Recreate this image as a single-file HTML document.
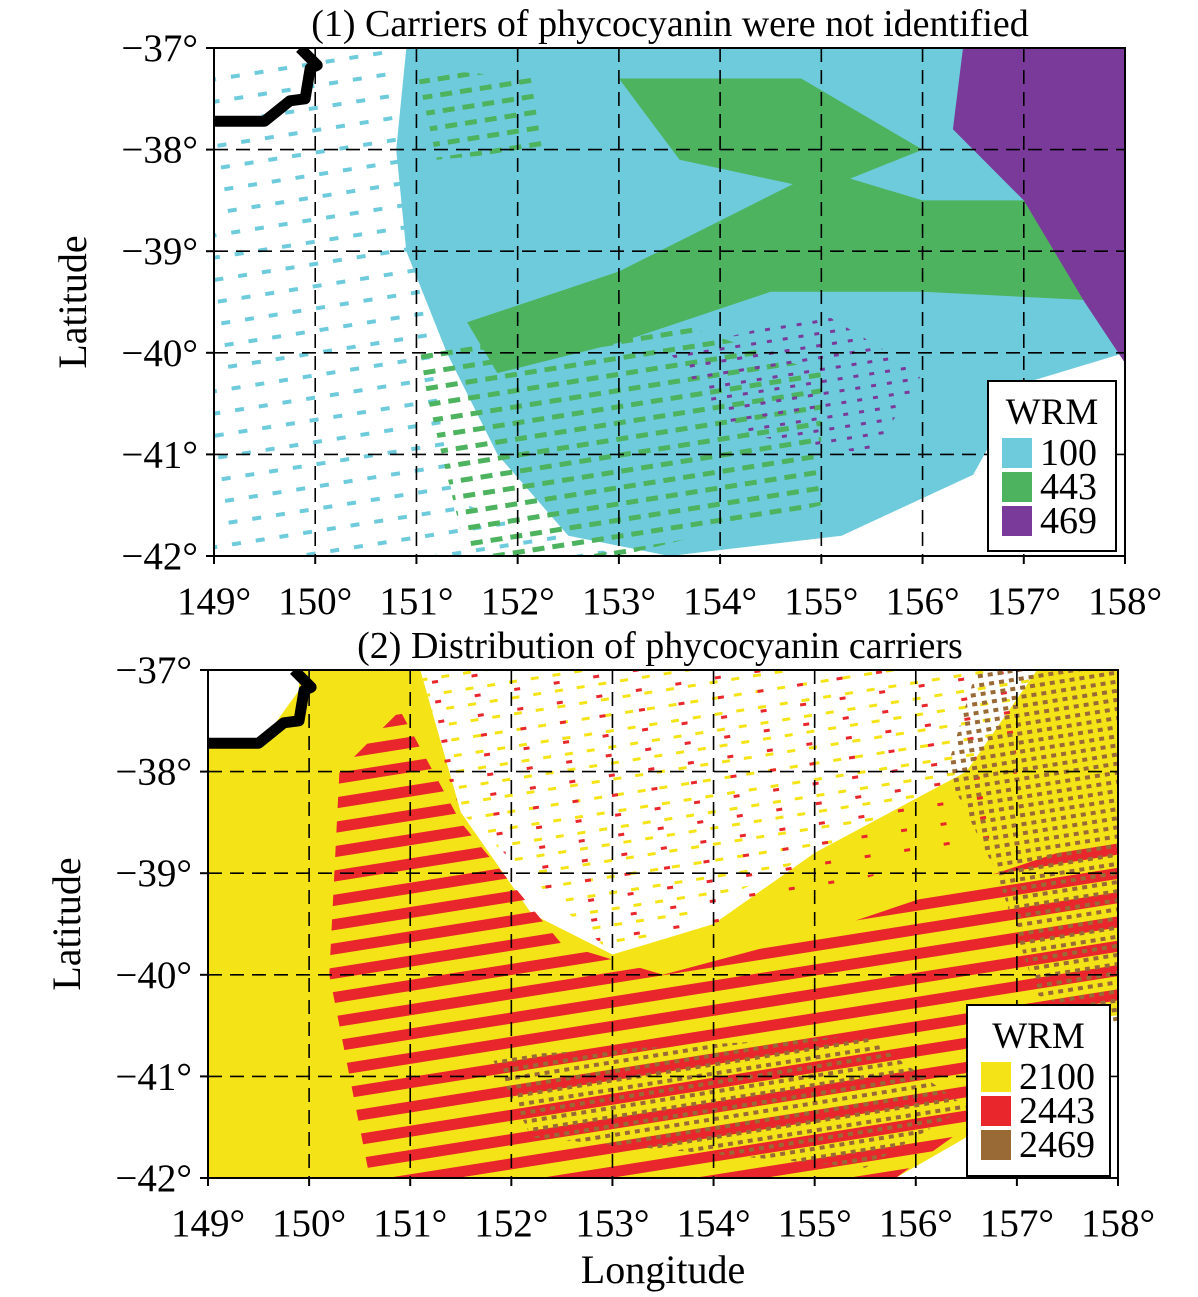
<!DOCTYPE html>
<html><head><meta charset="utf-8">
<style>
html,body{margin:0;padding:0;background:#fff;}
svg{display:block;font-family:"Liberation Serif",serif;}
</style></head>
<body>
<svg id="fig" width="1198" height="1297" viewBox="0 0 1198 1297" xmlns="http://www.w3.org/2000/svg">
<defs>
<pattern id="cyanStripe" width="24" height="22" patternUnits="userSpaceOnUse" patternTransform="rotate(-9)">
<rect x="0" y="0" width="9" height="4" fill="#6ecbdc"/></pattern>
<pattern id="greenStripe" width="20" height="16" patternUnits="userSpaceOnUse" patternTransform="rotate(-9)">
<rect x="0" y="0" width="12" height="5" fill="#4db35e"/></pattern>
<pattern id="purpleDots" width="16" height="12" patternUnits="userSpaceOnUse" patternTransform="rotate(-9)">
<rect x="0" y="0" width="5" height="3" fill="#7a3a9a"/></pattern>
<pattern id="redStripe" width="60" height="24" patternUnits="userSpaceOnUse" patternTransform="rotate(-9)">
<rect x="0" y="0" width="60" height="11" fill="#e8262b"/></pattern>
<pattern id="yellowStripe" width="22" height="16" patternUnits="userSpaceOnUse" patternTransform="rotate(-9)">
<rect x="0" y="0" width="8" height="3" fill="#f4e417"/></pattern>
<pattern id="redSparse" width="40" height="20" patternUnits="userSpaceOnUse" patternTransform="rotate(-9)">
<rect x="0" y="0" width="6" height="3" fill="#e8262b"/></pattern>
<pattern id="brownDots" width="10" height="9" patternUnits="userSpaceOnUse" patternTransform="rotate(-9)">
<rect x="0" y="0" width="5" height="4" fill="#9a6a36"/></pattern>
</defs>
</svg>
<script>
// ---- data ----
const lonTicks = [149,150,151,152,153,154,155,156,157,158];
const latTicks = [-37,-38,-39,-40,-41,-42];
const legend1Labels = ["100","443","469"];
const legend1Colors = ["#6ecbdc","#4db35e","#7a3a9a"];
const legend2Labels = ["2100","2443","2469"];
const legend2Colors = ["#f4e417","#e8262b","#9a6a36"];
const coast = [[149,-37.72],[149.5,-37.72],[149.75,-37.52],[149.9,-37.5],[149.95,-37.2],[150.02,-37.17],[149.9,-37.05],[149.85,-37]];
// panel 1 regions (lon,lat)
const p1CyanScatter = [[149,-37.1],[150.8,-37],[151.5,-41.5],[153,-42],[149,-42]];
const p1Cyan = [[150.9,-37],[156.5,-37],[157,-38],[158,-38.3],[158,-40],[157,-40.3],[156.5,-41.2],[155.2,-41.8],[153.5,-42],[152.5,-41.8],[151.8,-41],[151.3,-40],[150.9,-39],[150.8,-38]];
const p1Green1 = [[151.5,-39.7],[153,-39.2],[154,-38.7],[155,-38.2],[156,-38.5],[157.5,-38.5],[158,-39.5],[156,-39.4],[154.5,-39.4],[153,-39.9],[151.8,-40.2]];
const p1Green2 = [[153,-37.3],[154.8,-37.3],[156,-38],[155,-38.4],[153.6,-38.1]];
const p1Green3 = [[151,-37.2],[152.2,-37.3],[152.3,-38],[151.2,-38.1]];
const p1GreenScatter = [[151,-40],[153,-39.5],[155,-40.2],[155,-41.5],[153,-42],[151.5,-42]];
const p1Purple = [[156.4,-37],[158,-37],[158,-40.1],[157.6,-39.5],[157,-38.5],[156.3,-37.8]];
const p1PurpleScatter = [[153.5,-40],[155,-39.6],[156,-40.2],[155.5,-41],[154.2,-40.8]];
// panel 2 regions
const p2Yellow = [[149,-37.75],[149.5,-37.75],[149.9,-37.2],[149.9,-37],[151.1,-37],[151.5,-38.4],[152.2,-39.4],[153,-39.8],[154,-39.5],[155,-38.8],[156.5,-38],[157.2,-37],[158,-37],[158,-40.4],[157,-40.5],[156.5,-41.6],[155.8,-42],[149,-42]];
const p2YellowScatter = [[151.1,-37],[157.2,-37],[156.5,-38],[155,-38.8],[153,-39.8],[151.5,-38.4]];
const p2Red = [[150.3,-38],[150.9,-37.4],[151.5,-38.5],[152.5,-39.7],[153.5,-40],[155,-39.6],[158,-38.6],[158,-40.3],[157,-40.5],[156.5,-41.5],[155.8,-42],[150.6,-42],[150.2,-40]];
const p2RedScatter = [[151,-37],[157,-37],[157,-38.6],[153,-39.8],[151.5,-38.4]];
const p2Brown = [[156.6,-37],[158,-37],[158,-40.5],[157.2,-40.2],[156.8,-39],[156.3,-38]];
const p2BrownLow = [[151.8,-40.8],[155.5,-40.6],[156.5,-41.3],[155.5,-41.9],[152.2,-41.6]];

const NS="http://www.w3.org/2000/svg";
const svg=document.getElementById('fig');
function mk(tag,attrs,parent){const e=document.createElementNS(NS,tag);for(const k in attrs)e.setAttribute(k,attrs[k]);(parent||svg).appendChild(e);return e;}

function panel(cfg){
  const g=mk('g',{});
  
  
  const X=lon=>cfg.x0+(lon-149)*(cfg.x1-cfg.x0)/9;
  const Y=lat=>cfg.y0+(-37-lat)*(cfg.y1-cfg.y0)/5;
  const pts=arr=>arr.map(p=>X(p[0]).toFixed(1)+','+Y(p[1]).toFixed(1)).join(' ');
  const clipId='clip'+cfg.id;
  const cp=mk('clipPath',{id:clipId},g);mk('rect',{x:cfg.x0,y:cfg.y0,width:cfg.x1-cfg.x0,height:cfg.y1-cfg.y0},cp);
  const dg=mk('g',{'clip-path':'url(#'+clipId+')'},g);
  
  
  cfg.regions.forEach(r=>{
    const p=mk('polygon',{points:pts(r.pts),fill:r.fill},dg);
    
    
  });
  const c=mk('polyline',{points:pts(coast),fill:'none',stroke:'#000','stroke-width':11,'stroke-linejoin':'round'},dg);
  
  
  lonTicks.slice(1,-1).forEach(l=>{
    const ln=mk('line',{x1:X(l),x2:X(l),y1:cfg.y0,y2:cfg.y1,stroke:'#000','stroke-width':1.6,'stroke-dasharray':'14,8'},g);
    
    
  });
  latTicks.slice(1,-1).forEach(l=>{
    const ln=mk('line',{x1:cfg.x0,x2:cfg.x1,y1:Y(l),y2:Y(l),stroke:'#000','stroke-width':1.6,'stroke-dasharray':'14,8'},g);
    
    
  });
  const fr=mk('rect',{x:cfg.x0,y:cfg.y0,width:cfg.x1-cfg.x0,height:cfg.y1-cfg.y0,fill:'none',stroke:'#000','stroke-width':2},g);
  
  
  lonTicks.forEach(l=>{
    mk('line',{x1:X(l),x2:X(l),y1:cfg.y1,y2:cfg.y1+8,stroke:'#000','stroke-width':2},g);
    const t=mk('text',{x:X(l),y:cfg.y1+58,'text-anchor':'middle','font-size':39},g);
    t.textContent=l+'°';
    
    
  });
  latTicks.forEach(l=>{
    mk('line',{x1:cfg.x0-8,x2:cfg.x0,y1:Y(l),y2:Y(l),stroke:'#000','stroke-width':2},g);
    const t=mk('text',{x:cfg.x0-16,y:Y(l)+13,'text-anchor':'end','font-size':39},g);
    t.textContent='\u2212'+Math.abs(l)+'°';
    
    
  });
  const yt=mk('text',{x:0,y:0,'text-anchor':'middle','font-size':40,transform:'translate('+cfg.ylx+','+((cfg.y0+cfg.y1)/2)+') rotate(-90)'},g);
  yt.textContent='Latitude';
  
  
  const tt=mk('text',{x:cfg.tx,y:cfg.y0-12,'text-anchor':'middle','font-size':38},g);
  tt.textContent=cfg.title;
  
  
  const lg=mk('g',{},g);
  
  
  mk('rect',{x:cfg.lx,y:cfg.ly,width:cfg.lw,height:cfg.lh,fill:'#fff',stroke:'#000','stroke-width':2},lg);
  const lt=mk('text',{x:cfg.lx+cfg.lw/2,y:cfg.ly+43,'text-anchor':'middle','font-size':37},lg);
  lt.textContent='WRM';
  
  
  cfg.labels.forEach((lab,i)=>{
    const yy=cfg.ly+57+i*34;
    const sw=mk('rect',{x:cfg.lx+14,y:yy,width:30,height:30,fill:cfg.colors[i]},lg);
    
    
    const te=mk('text',{x:cfg.lx+52,y:yy+27,'font-size':38},lg);
    te.textContent=lab;
    
    
  });
}

panel({id:1,name:'panel-1',x0:214,x1:1125,y0:48,y1:556,ylx:86,tx:670,
  title:'(1) Carriers of phycocyanin were not identified',
  lx:988,ly:381,lw:128,lh:170,labels:legend1Labels,colors:legend1Colors,
  regions:[
    {name:'cyan-scatter',pts:p1CyanScatter,fill:'url(#cyanStripe)'},
    {name:'cyan-region',pts:p1Cyan,fill:'#6ecbdc'},
    {name:'green-scatter',pts:p1GreenScatter,fill:'url(#greenStripe)'},
    {name:'green-band',pts:p1Green1,fill:'#4db35e'},
    {name:'green-north',pts:p1Green2,fill:'#4db35e'},
    {name:'green-west',pts:p1Green3,fill:'url(#greenStripe)'},
    {name:'purple-scatter',pts:p1PurpleScatter,fill:'url(#purpleDots)'},
    {name:'purple-region',pts:p1Purple,fill:'#7a3a9a'}
  ]});
panel({id:2,name:'panel-2',x0:208,x1:1118,y0:670,y1:1178,ylx:80,tx:660,
  title:'(2) Distribution of phycocyanin carriers',
  lx:967,ly:1005,lw:143,lh:171,labels:legend2Labels,colors:legend2Colors,
  regions:[
    {name:'yellow-region',pts:p2Yellow,fill:'#f4e417'},
    {name:'yellow-scatter',pts:p2YellowScatter,fill:'url(#yellowStripe)'},
    {name:'red-scatter',pts:p2RedScatter,fill:'url(#redSparse)'},
    {name:'red-stripes',pts:p2Red,fill:'url(#redStripe)'},
    {name:'brown-region',pts:p2Brown,fill:'url(#brownDots)'},
    {name:'brown-south',pts:p2BrownLow,fill:'url(#brownDots)'}
  ]});
const xl=mk('text',{x:663,y:1283,'text-anchor':'middle','font-size':40});
xl.textContent='Longitude';


</script>
</body></html>
